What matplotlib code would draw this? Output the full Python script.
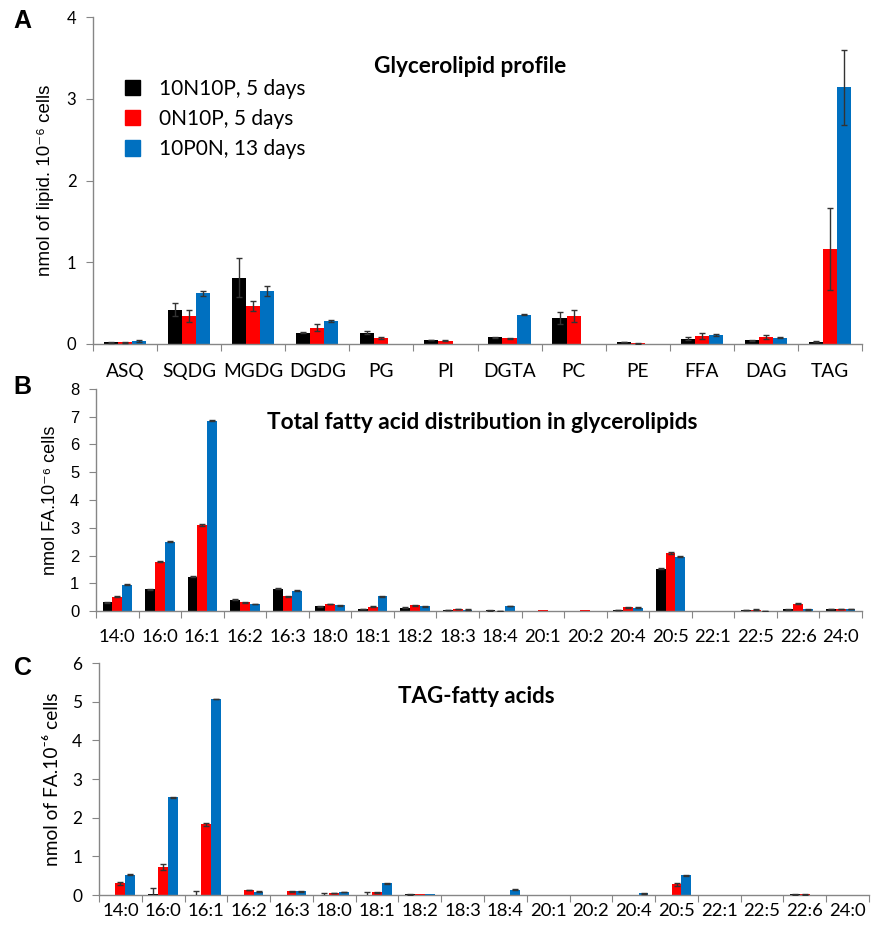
import numpy as np
import matplotlib
matplotlib.use("Agg")
import matplotlib.pyplot as plt
from matplotlib.patches import Patch

# ---- data ----
series = ["10N10P, 5 days", "0N10P, 5 days", "10P0N, 13 days"]
colors = ["#000000", "#FF0000", "#0070C0"]

lipids = ["ASQ", "SQDG", "MGDG", "DGDG", "PG", "PI", "DGTA", "PC", "PE", "FFA", "DAG", "TAG"]
lip_10n10p = [0.02, 0.42, 0.81, 0.14, 0.14, 0.05, 0.08, 0.32, 0.025, 0.065, 0.045, 0.03]
lip_0n10p = [0.02, 0.34, 0.46, 0.20, 0.07, 0.04, 0.07, 0.34, 0.01, 0.10, 0.085, 1.16]
lip_10p0n = [0.04, 0.62, 0.65, 0.28, 0.0, 0.0, 0.36, 0.0, 0.0, 0.11, 0.077, 3.14]
lip_err_10n10p = [0.005, 0.08, 0.24, 0.01, 0.02, 0.005, 0.005, 0.07, 0.005, 0.02, 0.005, 0.005]
lip_err_0n10p = [0.005, 0.07, 0.06, 0.04, 0.01, 0.005, 0.005, 0.07, 0.005, 0.04, 0.02, 0.50]
lip_err_10p0n = [0.01, 0.03, 0.06, 0.01, 0.0, 0.0, 0.01, 0.0, 0.0, 0.01, 0.005, 0.46]

fatty = ["14:0", "16:0", "16:1", "16:2", "16:3", "18:0", "18:1", "18:2", "18:3",
         "18:4", "20:1", "20:2", "20:4", "20:5", "22:1", "22:5", "22:6", "24:0"]
tot_10n10p = [0.32, 0.78, 1.24, 0.41, 0.81, 0.17, 0.07, 0.12, 0.04,
              0.02, 0.01, 0.005, 0.03, 1.53, 0.01, 0.03, 0.07, 0.06]
tot_0n10p = [0.51, 1.78, 3.10, 0.31, 0.53, 0.25, 0.16, 0.20, 0.08,
             0.01, 0.02, 0.02, 0.13, 2.09, 0.01, 0.05, 0.26, 0.06]
tot_10p0n = [0.95, 2.49, 6.86, 0.25, 0.73, 0.20, 0.53, 0.17, 0.05,
             0.18, 0.0, 0.0, 0.12, 1.96, 0.0, 0.01, 0.06, 0.07]
tot_err = [0.02, 0.02, 0.02, 0.01, 0.01, 0.01, 0.01, 0.01, 0.005,
           0.005, 0.0, 0.0, 0.01, 0.03, 0.0, 0.005, 0.02, 0.005]

tag_10n10p = [0.0, 0.02, 0.01, 0.0, 0.01, 0.01, 0.01, 0.02, 0.01,
              0.005, 0.01, 0.0, 0.005, 0.005, 0.0, 0.0, 0.02, 0.0]
tag_0n10p = [0.30, 0.72, 1.83, 0.13, 0.10, 0.05, 0.07, 0.02, 0.01,
             0.01, 0.01, 0.005, 0.005, 0.28, 0.005, 0.005, 0.02, 0.005]
tag_10p0n = [0.53, 2.53, 5.07, 0.09, 0.10, 0.08, 0.30, 0.03, 0.01,
             0.14, 0.0, 0.0, 0.04, 0.51, 0.0, 0.005, 0.01, 0.0]
tag_err_10n10p = [0.0, 0.16, 0.09, 0.0, 0.0, 0.03, 0.08, 0.01, 0.0,
                  0.0, 0.0, 0.0, 0.0, 0.0, 0.0, 0.0, 0.01, 0.0]
tag_err_0n10p = [0.04, 0.08, 0.04, 0.01, 0.01, 0.01, 0.02, 0.0, 0.0,
                 0.0, 0.0, 0.0, 0.0, 0.04, 0.0, 0.0, 0.01, 0.0]
tag_err_10p0n = [0.01, 0.01, 0.01, 0.01, 0.01, 0.01, 0.01, 0.0, 0.0,
                 0.01, 0.0, 0.0, 0.005, 0.01, 0.0, 0.0, 0.0, 0.0]

SPINE = "#868686"
CAL = ["Lato", "DejaVu Sans"]
ARI = ["Liberation Sans", "DejaVu Sans"]


def bars(ax, cats, vals, errs, bw):
    x = np.arange(len(cats))
    for i, (v, e) in enumerate(zip(vals, errs)):
        xi = x + (i - 1) * bw
        ax.bar(xi, v, bw, color=colors[i], label=series[i], zorder=2)
        v = np.asarray(v)
        e = np.asarray(e)
        keep = e > 0
        ax.errorbar(xi[keep], v[keep], yerr=e[keep], fmt="none", ecolor="#333333",
                    elinewidth=1.0, capsize=2.5, capthick=1.0, zorder=3)
    ax.set_xlim(-0.5, len(cats) - 0.5)
    for s in ["top", "right"]:
        ax.spines[s].set_visible(False)
    for s in ["left", "bottom"]:
        ax.spines[s].set_color(SPINE)
        ax.spines[s].set_linewidth(1.0)
    ax.set_xticks(np.arange(len(cats) + 1) - 0.5)
    ax.set_xticklabels([])
    ax.tick_params(axis="x", which="major", length=5, color=SPINE, direction="out")
    ax.set_xticks(x, minor=True)
    ax.set_xticklabels(cats, minor=True, family=CAL)
    ax.tick_params(axis="y", length=5, color=SPINE, direction="out", pad=7)


fig = plt.figure(figsize=(8.76, 9.31), dpi=100)

# ---- panel A ----
axA = fig.add_axes([93 / 876, 1 - 344 / 931, 769 / 876, 327 / 931])
bars(axA, lipids, [lip_10n10p, lip_0n10p, lip_10p0n],
     [lip_err_10n10p, lip_err_0n10p, lip_err_10p0n], 0.22)
axA.set_ylim(0, 4)
axA.set_yticks([0, 1, 2, 3, 4])
axA.set_yticklabels(["0", "1", "2", "3", "4"], family=CAL, fontsize=12)
axA.tick_params(axis="x", which="minor", length=0, pad=14, labelsize=13.8)
axA.set_ylabel("nmol of lipid. 10\u207b\u2076 cells", family=ARI, fontsize=13.5, labelpad=9)
axA.text(0.49, 0.85, "Glycerolipid profile", transform=axA.transAxes, ha="center",
         va="center", fontsize=16.3, fontweight="bold", family=CAL)
axA.legend(handles=[Patch(color=c, label=s) for c, s in zip(colors, series)],
           loc="upper left", bbox_to_anchor=(0.025, 0.85), frameon=False,
           prop={"family": CAL, "size": 15}, handlelength=0.75, handleheight=0.75,
           handletextpad=0.9, labelspacing=0.5, borderaxespad=0.2)

# ---- panel B ----
axB = fig.add_axes([96 / 876, 1 - 611 / 931, 766 / 876, 222 / 931])
bars(axB, fatty, [tot_10n10p, tot_0n10p, tot_10p0n], [tot_err, tot_err, tot_err], 0.23)
axB.set_ylim(0, 8)
axB.set_yticks(range(0, 9))
axB.set_yticklabels([str(i) for i in range(9)], family=ARI, fontsize=12)
axB.tick_params(axis="x", which="minor", length=0, pad=13, labelsize=13.3)
axB.set_ylabel("nmol FA.10\u207b\u2076 cells", family=ARI, fontsize=13, labelpad=8)
axB.text(0.504, 0.85, "Total fatty acid distribution in glycerolipids", transform=axB.transAxes,
         ha="center", va="center", fontsize=16.3, fontweight="bold", family=CAL)

# ---- panel C ----
axC = fig.add_axes([99 / 876, 1 - 895 / 931, 770 / 876, 232 / 931])
bars(axC, fatty, [tag_10n10p, tag_0n10p, tag_10p0n],
     [tag_err_10n10p, tag_err_0n10p, tag_err_10p0n], 0.23)
axC.set_ylim(0, 6)
axC.set_yticks(range(0, 7))
axC.set_yticklabels([str(i) for i in range(7)], family=CAL, fontsize=12.5)
axC.tick_params(axis="x", which="minor", length=0, pad=6, labelsize=13.3)
axC.set_ylabel("nmol of FA.10\u207b\u2076 cells", family=CAL, fontsize=13.8, labelpad=8)
axC.text(0.49, 0.855, "TAG-fatty acids", transform=axC.transAxes,
         ha="center", va="center", fontsize=16, fontweight="bold", family=CAL)

# panel letters
for lbl, (px, py) in zip("ABC", [(22, 21), (22, 387), (23, 668)]):
    fig.text(px / 876, 1 - py / 931, lbl, fontsize=18, fontweight="bold", family=ARI,
             ha="center", va="center")

fig.savefig("out.png", dpi=100)
